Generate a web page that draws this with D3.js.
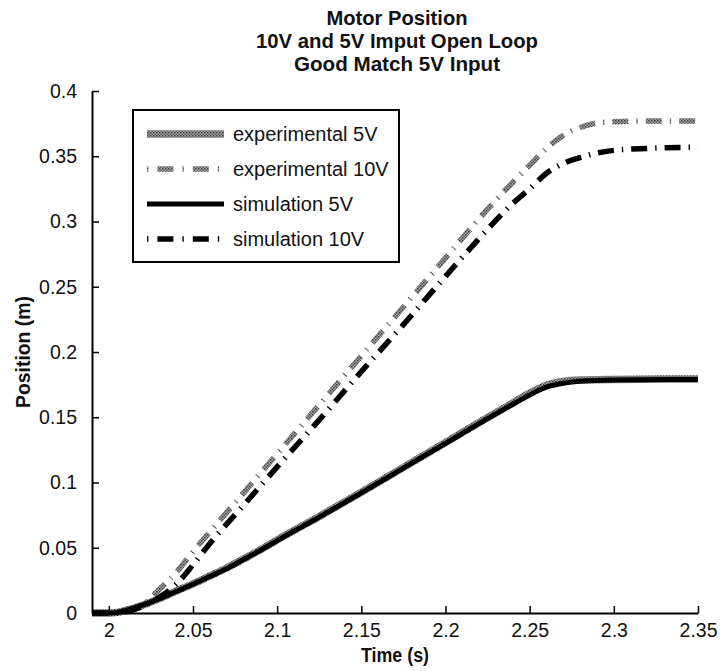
<!DOCTYPE html>
<html>
<head>
<meta charset="utf-8">
<script src="https://cdn.jsdelivr.net/npm/d3@7"></script>
<style>
  body { margin: 0; background: #fff; }
  svg { display: block; }
</style>
</head>
<body>
<div id="chart"></div>
<script>
// data
const titleLines = ["Motor Position", "10V and 5V Imput Open Loop", "Good Match 5V Input"];
const titleWidths = [141, 282, 206];
const xTicks = [2, 2.05, 2.1, 2.15, 2.2, 2.25, 2.3, 2.35];
const yTicks = [0, 0.05, 0.1, 0.15, 0.2, 0.25, 0.3, 0.35, 0.4];

const time5 = [1.99, 2.0, 2.005, 2.01, 2.02, 2.03, 2.04, 2.05, 2.06, 2.07, 2.08, 2.09, 2.1, 2.125, 2.15, 2.175, 2.2, 2.225, 2.24, 2.25, 2.26, 2.27, 2.28, 2.3, 2.35];
const sim5 = [0, 0, 0.0005, 0.002, 0.006, 0.011, 0.0165, 0.022, 0.028, 0.034, 0.041, 0.048, 0.0555, 0.0735, 0.092, 0.111, 0.130, 0.149, 0.160, 0.167, 0.173, 0.176, 0.1775, 0.1785, 0.179];
const exp5 = [0, 0, 0.0005, 0.002, 0.006, 0.011, 0.0168, 0.0223, 0.0284, 0.0345, 0.0414, 0.0484, 0.056, 0.074, 0.0926, 0.1116, 0.1306, 0.1498, 0.161, 0.1685, 0.1745, 0.1775, 0.1785, 0.179, 0.1793];

const time10 = [1.99, 2.0, 2.01, 2.02, 2.03, 2.04, 2.05, 2.06, 2.08, 2.1, 2.125, 2.15, 2.175, 2.2, 2.225, 2.24, 2.25, 2.26, 2.27, 2.28, 2.29, 2.3, 2.32, 2.35];
const sim10 = [0, 0, 0.001, 0.005, 0.012, 0.022, 0.037, 0.0533, 0.0825, 0.112, 0.148, 0.185, 0.221, 0.258, 0.294, 0.314, 0.325, 0.337, 0.3445, 0.349, 0.3525, 0.3545, 0.356, 0.357];
const exp10 = [0, 0, 0.001, 0.006, 0.018, 0.031, 0.047, 0.062, 0.092, 0.122, 0.1595, 0.197, 0.2345, 0.272, 0.3095, 0.330, 0.343, 0.356, 0.366, 0.372, 0.3755, 0.3765, 0.377, 0.377];

const seriesNames = ["experimental 5V", "experimental 10V", "simulation 5V", "simulation 10V"];

// layout
const W = 720, H = 671;
const margin = {left: 92, right: 22, top: 91, bottom: 58};
const font = "'Liberation Sans', Arial, sans-serif";

const svg = d3.select("#chart").append("svg")
  .attr("width", W)
  .attr("height", H);

const defs = svg.append("defs");
let hatch = defs.append("pattern")
  .attr("id", "hatch")
  .attr("patternUnits", "userSpaceOnUse")
  .attr("width", 3).attr("height", 3);
hatch.append("rect").attr("width", 3).attr("height", 3).attr("fill", "#a8a8a8");
hatch.append("rect").attr("width", 1.5).attr("height", 1.5).attr("fill", "#3a3a3a");
hatch.append("rect").attr("x", 1.5).attr("y", 1.5).attr("width", 1.5).attr("height", 1.5).attr("fill", "#5a5a5a");

const x = d3.scaleLinear().domain([1.99, 2.35]).range([margin.left, W - margin.right]);
const y = d3.scaleLinear().domain([0, 0.4]).range([H - margin.bottom, margin.top]);

const styles = [
  {stroke: "url(#hatch)", width: 7.5, dash: null},
  {stroke: "url(#hatch)", width: 5.5, dash: "16,8,1.4,8"},
  {stroke: "#000", width: 5, dash: null},
  {stroke: "#000", width: 5.5, dash: "16,8,1.4,8"}
];

const series = [
  {t: time5, v: exp5, s: styles[0]},
  {t: time10, v: exp10, s: styles[1]},
  {t: time5, v: sim5, s: styles[2]},
  {t: time10, v: sim10, s: styles[3]}
];

const line = d3.line()
  .x(d => x(d[0]))
  .y(d => y(d[1]))
  .curve(d3.curveMonotoneX);

const plot = svg.append("g");
series.forEach(function (d) {
  plot.append("path")
    .datum(d.t.map((t, i) => [t, d.v[i]]))
    .attr("d", line)
    .attr("fill", "none")
    .attr("stroke", d.s.stroke)
    .attr("stroke-width", d.s.width)
    .attr("stroke-dasharray", d.s.dash)
    .attr("stroke-linecap", "butt")
    .attr("stroke-linejoin", "round");
});

// axes: left and bottom only, ticks pointing in
let xAxis = svg.append("g")
  .attr("transform", "translate(0," + (H - margin.bottom) + ")")
  .call(d3.axisBottom(x).tickValues(xTicks).tickSizeInner(-7).tickSizeOuter(0).tickPadding(10)
    .tickFormat(d3.format("")));
let yAxis = svg.append("g")
  .attr("transform", "translate(" + margin.left + ",0)")
  .call(d3.axisLeft(y).tickValues(yTicks).tickSizeInner(-7).tickSizeOuter(0).tickPadding(15)
    .tickFormat(d3.format("")));

[xAxis, yAxis].forEach(function (a) {
  a.select(".domain").attr("stroke", "#000").attr("stroke-width", 2);
  a.selectAll(".tick line").attr("stroke", "#000").attr("stroke-width", 1.5);
  a.selectAll(".tick text")
    .attr("fill", "#111")
    .style("font-family", font)
    .style("font-size", "19.5px");
});

// legend
const lg = svg.append("g");
lg.append("rect")
  .attr("x", 133).attr("y", 110)
  .attr("width", 266).attr("height", 152)
  .attr("fill", "#fff")
  .attr("stroke", "#000")
  .attr("stroke-width", 2);

seriesNames.forEach(function (name, i) {
  let cy = 134 + i * 35;
  lg.append("line")
    .attr("x1", 147).attr("x2", 224)
    .attr("y1", cy).attr("y2", cy)
    .attr("stroke", styles[i].stroke)
    .attr("stroke-width", styles[i].width)
    .attr("stroke-dasharray", styles[i].dash ? "1.4,9,16,9" : null);
  lg.append("text")
    .attr("x", 233).attr("y", cy + 7)
    .text(name)
    .style("font-family", font)
    .style("font-size", "20px")
    .attr("fill", "#111");
});

// title and axis labels
svg.append("g").selectAll("text")
  .data(titleLines)
  .join("text")
  .attr("x", 397)
  .attr("y", (d, i) => 25 + i * 23)
  .attr("text-anchor", "middle")
  .attr("textLength", (d, i) => titleWidths[i])
  .attr("lengthAdjust", "spacingAndGlyphs")
  .text(d => d)
  .style("font-family", font)
  .style("font-weight", "bold")
  .style("font-size", "20px")
  .attr("fill", "#111");

svg.append("text")
  .attr("x", 395).attr("y", 662)
  .attr("text-anchor", "middle")
  .attr("textLength", 68)
  .attr("lengthAdjust", "spacingAndGlyphs")
  .text("Time (s)")
  .style("font-family", font)
  .style("font-weight", "bold")
  .style("font-size", "20px")
  .attr("fill", "#111");

svg.append("text")
  .attr("transform", "translate(30,352) rotate(-90)")
  .attr("text-anchor", "middle")
  .attr("textLength", 112)
  .attr("lengthAdjust", "spacingAndGlyphs")
  .text("Position (m)")
  .style("font-family", font)
  .style("font-weight", "bold")
  .style("font-size", "20px")
  .attr("fill", "#111");
</script>
</body>
</html>
